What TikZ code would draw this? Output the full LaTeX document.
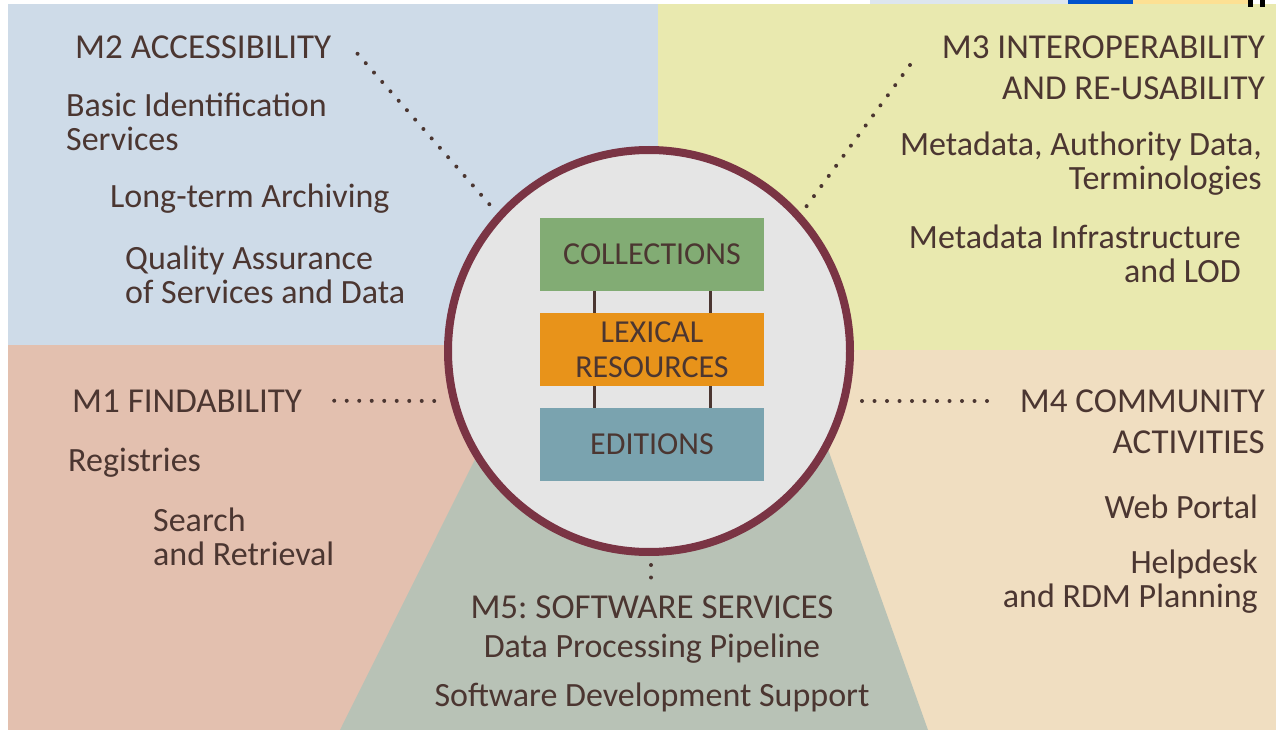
\documentclass[tikz,border=0pt]{standalone}
\usepackage{fontspec}
\setmainfont{Carlito}
\usetikzlibrary{positioning}

\definecolor{ink}{HTML}{4B3631}
\definecolor{skyback}{HTML}{CEDBE8}
\definecolor{limeback}{HTML}{E9E9AF}
\definecolor{roseback}{HTML}{E3C0AF}
\definecolor{sandback}{HTML}{F0DEC1}
\definecolor{sageback}{HTML}{B8C2B6}
\definecolor{hubfill}{HTML}{E5E5E5}
\definecolor{ring}{HTML}{7A3444}
\definecolor{collgreen}{HTML}{82AC74}
\definecolor{lexorange}{HTML}{E8931A}
\definecolor{edteal}{HTML}{7AA3AF}

\begin{document}
\begin{tikzpicture}[x=1pt, y=-1pt, node distance=95pt, on grid,
  head/.style={font=\fontsize{35}{41}\selectfont, text=ink, inner sep=0pt},
  item/.style={font=\fontsize{34}{34}\selectfont, text=ink, inner sep=0pt},
  layer/.style={minimum width=224pt, minimum height=73pt, inner sep=0pt,
    font=\fontsize{32}{35}\selectfont, text=ink, align=center},
  dots/.style={ink, line width=4pt, line cap=round, dash pattern=on 0pt off 12.5pt},
  bar/.style={ink, line width=3pt}]

  \useasboundingbox (0,0) rectangle (1278,730);

  % quadrants
  \fill[skyback] (8,4) rectangle (658,345);
  \fill[limeback] (658,4) rectangle (1276,350);
  \fill[roseback] (8,345) rectangle (658,730);
  \fill[sandback] (658,350) rectangle (1276,730);
  \fill[sageback] (340,730) -- (529,351) -- (793,351) -- (928,730) -- cycle;

  % strip at the top edge
  \fill[skyback!70!white] (870,0) rectangle (1068,4);
  \fill[blue!60!cyan!80!black] (1068,0) rectangle (1133,4);
  \fill[yellow!45!orange!40] (1133,0) rectangle (1248,4);
  \fill[black] (1248,0) rectangle (1253,7);
  \fill[black] (1260,0) rectangle (1265,7);

  % hub
  \node[circle, draw=ring, line width=8pt, fill=hubfill, minimum size=402pt,
    inner sep=0pt] (hub) at (649,351) {};
  \node[layer, fill=lexorange] (lex) at (652,349.5) {LEXICAL\\RESOURCES};
  \node[layer, fill=collgreen, above=of lex] (coll) {COLLECTIONS};
  \node[layer, fill=edteal, below=of lex] (ed) {EDITIONS};

  \draw[bar] ([xshift=-58pt]coll.south) -- ([xshift=-58pt]lex.north);
  \draw[bar] ([xshift=58pt]coll.south) -- ([xshift=58pt]lex.north);
  \draw[bar] ([xshift=-58pt]lex.south) -- ([xshift=-58pt]ed.north);
  \draw[bar] ([xshift=58pt]lex.south) -- ([xshift=58pt]ed.north);

  % M2
  \node[head, anchor=base west] (m2) at (75,59) {M2 ACCESSIBILITY};
  \node[item, anchor=base west, align=left] (m2a) at (66,151) {Basic Identification\\Services};
  \node[item, anchor=base west] (m2b) at (110,208) {Long-term Archiving};
  \node[item, anchor=base west, align=left] (m2c) at (125,304) {Quality Assurance\\of Services and Data};

  % M3
  \node[head, anchor=base east, align=right] (m3) at (1265,100) {M3 INTEROPERABILITY\\AND RE-USABILITY};
  \node[item, anchor=base east, align=right] (m3a) at (1262,190) {Metadata, Authority Data,\\Terminologies};
  \node[item, anchor=base east, align=right] (m3b) at (1241,283) {Metadata Infrastructure\\and LOD};

  % M1
  \node[head, anchor=base west] (m1) at (72,412) {M1 FINDABILITY};
  \node[item, anchor=base west] (m1a) at (68,471) {Registries};
  \node[item, anchor=base west, align=left] (m1b) at (153,565) {Search\\and Retrieval};

  % M4
  \node[head, anchor=base east, align=right] (m4) at (1265,453) {M4 COMMUNITY\\ACTIVITIES};
  \node[item, anchor=base east] (m4a) at (1258,518) {Web Portal};
  \node[item, anchor=base east, align=right] (m4b) at (1258,607) {Helpdesk\\and RDM Planning};

  % M5
  \node[head, anchor=base] (m5) at (652,618) {M5:\ SOFTWARE SERVICES};
  \node[item, anchor=base] (m5a) at (652,657) {Data Processing Pipeline};
  \node[item, anchor=base] (m5b) at (652,706) {Software Development Support};

  % dotted connectors
  \coordinate (m3start) at (910,65);
  \coordinate (m2end) at (490,205);
  \coordinate (m3end) at (806,207);
  \coordinate (m1end) at (442,401);
  \coordinate (m4end) at (988,401);
  \coordinate (m5top) at (651,565);
  \draw[dots] ([xshift=26pt,yshift=-6pt]m2.east) -- (m2end);
  \draw[dots] (m3start) -- (m3end);
  \draw[dots] ([xshift=32pt]m1.east) -- (m1end);
  \draw[dots] (hub.east |- m4end) ++(8pt,0) -- (m4end);
  \draw[dots] (m5top) -- ++(0,13);

\end{tikzpicture}
\end{document}
